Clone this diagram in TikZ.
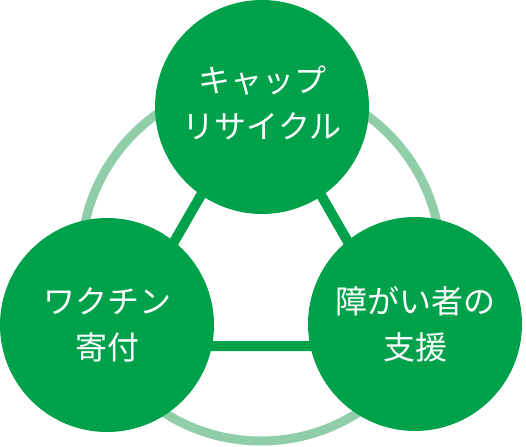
\documentclass[tikz,border=0pt]{standalone}
\usepackage{fontspec}
\newfontfamily\jp{Noto Sans CJK JP}
\definecolor{dkg}{RGB}{0,161,75}
\definecolor{ltg}{RGB}{143,206,168}
\begin{document}
\begin{tikzpicture}[x=1pt,y=-1pt,
  hubtext/.style={text=white,align=center,font=\jp\fontsize{32}{46}\selectfont},
  hub/.style={circle,fill=dkg,minimum size=214pt,inner sep=0pt,hubtext},
  ring/.style={draw=ltg,line width=9pt},
  link/.style={draw=dkg,line width=10pt,line join=miter}]
\useasboundingbox (0,0) rectangle (526,446);
\coordinate (c) at (261,261);
\draw[ring] (c) circle[radius=180pt];
\coordinate (ta) at (261,91);
\coordinate (tl) at (114,346);
\coordinate (tr) at (408,346);
\draw[link] (ta) -- (tl) -- (tr) -- cycle;
\node[hub] (cap) at (262,107) {};
\node[hubtext] (captext) at (cap.center) [yshift=4pt] {キャップ\\リサイクル};
\node[hub] (vac) at (107,325) {ワクチン\\寄付};
\node[hub] (sup) at (415,324) {障がい者の\\支援};
\end{tikzpicture}
\end{document}
